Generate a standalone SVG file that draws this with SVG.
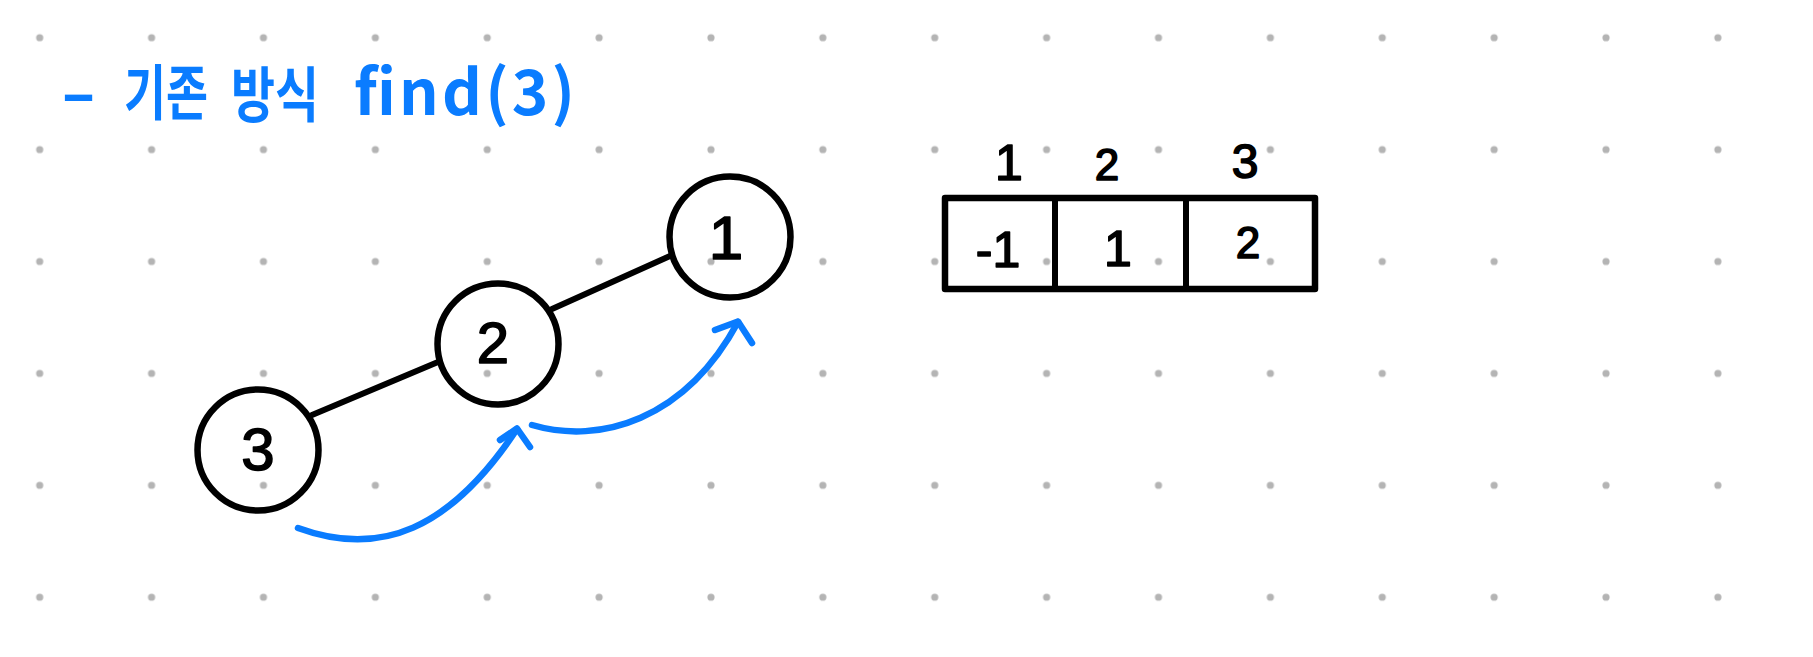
<svg xmlns="http://www.w3.org/2000/svg" width="1813" height="657" viewBox="0 0 1813 657">
  <defs>
    <pattern id="dots" patternUnits="userSpaceOnUse" x="-16.24" y="-18.25" width="111.88" height="111.9">
      <circle cx="55.94" cy="55.95" r="3.6" fill="#b4b4b4"/>
    </pattern>
    <style>
      .node { fill: none; stroke: #000; stroke-width: 6.5; }
      .edge { stroke: #000; stroke-width: 6; stroke-linecap: round; fill: none; }
      .arrow { stroke: #0a7cff; stroke-width: 6.5; stroke-linecap: round; stroke-linejoin: round; fill: none; }
      .num { font-family: "Liberation Sans", Arial, sans-serif; fill: #000; stroke: #000; stroke-width: 1.6; stroke-linejoin: round; text-anchor: middle; }
      .head { font-family: "Noto Sans CJK KR", "Noto Sans", sans-serif; font-weight: 700; fill: #0a7cff; }
      .cell { fill: none; stroke: #000; stroke-width: 6.5; stroke-linejoin: round; }
    </style>
  </defs>
  <rect width="1813" height="657" fill="#ffffff"/>
  <rect width="1813" height="657" fill="url(#dots)"/>

  <g id="title">
    <text class="head" x="60" y="115" font-size="60" textLength="37" lengthAdjust="spacingAndGlyphs">-</text>
    <text class="head" x="124" y="115" font-size="60" textLength="84" lengthAdjust="spacingAndGlyphs">기존</text>
    <text class="head" x="231" y="117" font-size="60" textLength="88" lengthAdjust="spacingAndGlyphs">방식</text>
    <text class="head" x="354" y="115" font-size="62" textLength="221" lengthAdjust="spacing">find(3)</text>
  </g>

  <g id="connectors">
    <line class="edge" x1="312" y1="415" x2="438" y2="362"/>
    <line class="edge" x1="552" y1="309" x2="670" y2="256"/>
    <path class="arrow" d="M298,528 C380,558 450,530 517,429"/>
    <path class="arrow" d="M500,440 L517,428.5 L530,447"/>
    <path class="arrow" d="M532,425 C600,445 685,420 738,322"/>
    <path class="arrow" d="M715,330 L738,321.5 L752,343"/>
  </g>

  <g id="node-1">
    <circle class="node" cx="730" cy="237" r="60.5"/>
    <text class="num" x="726" y="259" font-size="62">1</text>
  </g>
  <g id="node-2">
    <circle class="node" cx="498" cy="344" r="60.5"/>
    <text class="num" x="493" y="363" font-size="58">2</text>
  </g>
  <g id="node-3">
    <circle class="node" cx="258" cy="450" r="60.5"/>
    <text class="num" x="258" y="470" font-size="60">3</text>
  </g>

  <g id="array">
    <rect class="cell" x="945" y="198" width="370" height="91"/>
    <line class="edge" x1="1055" y1="198" x2="1055" y2="289"/>
    <line class="edge" x1="1186" y1="198" x2="1186" y2="289"/>
    <text class="num" x="1009" y="180" font-size="50">1</text>
    <text class="num" x="1107" y="180" font-size="44">2</text>
    <text class="num" x="1245" y="178" font-size="48">3</text>
    <text class="num" x="998" y="267" font-size="50">-1</text>
    <text class="num" x="1118" y="266" font-size="50">1</text>
    <text class="num" x="1248" y="258" font-size="44">2</text>
  </g>
</svg>
